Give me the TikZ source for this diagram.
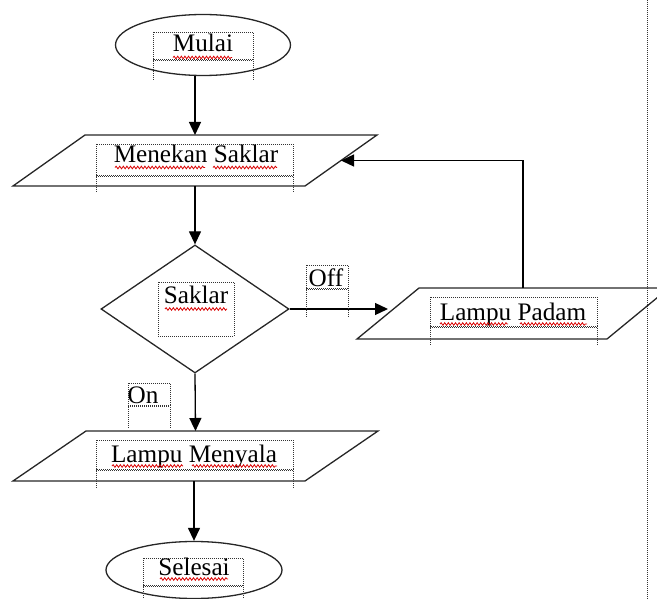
\documentclass[tikz,border=0pt]{standalone}
\usepackage{fontspec}
\setmainfont{Liberation Serif}
\usetikzlibrary{shapes.geometric,arrows.meta,decorations.pathmorphing}

% dotted text-box outline: x1, y1, x2, y2 (box), y3 (end of the side guides)
\newcommand\wordframe[5]{%
  \draw[tbox] (#1,#2) rectangle (#3,#4);
  \draw[tbox] (#1,#4) -- (#1,#5) (#3,#4) -- (#3,#5);
  \draw[tbox] (#1,#4+1.8) -- (#3,#4+1.8);
}
% parallelogram drawn inside a named frame node: node name, horizontal slant
\newcommand\slanted[2]{%
  \draw[shapeline] ([xshift=#2]#1.north west) -- (#1.north east)
    -- ([xshift=-#2]#1.south east) -- (#1.south west) -- cycle;
}

\begin{document}
\begin{tikzpicture}[x=1pt,y=-1pt,
  shapeline/.style={draw=black!85, line width=1.3pt, inner sep=0pt},
  term/.style={shapeline, ellipse},
  iobox/.style={inner sep=0pt, outer sep=0pt},
  decision/.style={shapeline, diamond},
  flow/.style={draw=black, line width=1.3pt, -{Triangle[length=13pt,width=12pt]}},
  txt/.style={font=\fontsize{25.2}{29}\selectfont, inner sep=0pt, anchor=base},
  tbox/.style={draw=black!80, line width=0.9pt, dash pattern=on 1pt off 1pt},
  squig/.style={draw=red!85!black, line width=0.8pt, decorate,
    decoration={snake, amplitude=1.3pt, segment length=3.6pt}},
]
\useasboundingbox (0,0) rectangle (657,599);

% page-side dotted guide
\draw[tbox] (647,0) -- (647,599);

% flowchart shapes
\node[term, minimum width=175pt, minimum height=61pt] (mulai) at (203,45) {};
\node[iobox, minimum width=364pt, minimum height=51pt] (menekan) at (195,160.5) {};
\slanted{menekan}{72pt}
\node[decision, minimum width=188pt, minimum height=128pt] (saklar) at (195,309) {};
\node[iobox, minimum width=312pt, minimum height=51pt] (padam) at (513,313.5) {};
\slanted{padam}{62pt}
\node[iobox, minimum width=365pt, minimum height=50pt] (menyala) at (195.5,456) {};
\slanted{menyala}{73pt}
\node[term, minimum width=176pt, minimum height=57pt] (selesai) at (194,570) {};

% edge points on the slanted sides
\coordinate (padamleft) at ([xshift=31pt]padam.west);
\coordinate (menekanright) at ([xshift=-36pt]menekan.east);
\coordinate (padamtop) at ([xshift=10pt]padam.north);

% connectors
\draw[flow] (mulai.south -| menekan.north) -- (menekan.north);
\draw[flow] (menekan.south) -- (saklar.north);
\draw[flow] (saklar.east) -- (saklar.east -| padamleft);
\draw[flow] (padamtop) |- (menekanright);
\draw[flow] (saklar.south) -- (menyala.north);
\draw[flow] (menyala.south -| selesai.north) -- (selesai.north);

% text boxes
\wordframe{153}{32}{253}{59}{80}
\wordframe{96}{144}{293}{175}{193}
\draw[tbox] (158,282) rectangle (234,336);
\wordframe{306}{265}{348}{288}{317}
\wordframe{430}{297}{597}{326}{346}
\wordframe{128}{383}{170}{405}{428}
\wordframe{96}{440}{293}{469}{488}
\wordframe{143}{558}{243}{585}{599}

% texts
\node[txt] (tmulai) at (203,52) {Mulai};
\node[txt] (tmenekan) at (196,163) {Menekan Saklar};
\node[txt] (tsaklar) at (196,304) {Saklar};
\node[txt] (toff) at (326,287) {Off};
\node[txt] (tpadam) at (513,320) {Lampu Padam};
\node[txt] (ton) at (143,403) {On};
\node[txt] (tmenyala) at (194,462) {Lampu Menyala};
\node[txt] (tselesai) at (194,575) {Selesai};

% spell-check underlines
\draw[squig] (173,57.5) -- (232,57.5);
\draw[squig] (115,167.5) -- (205,167.5);
\draw[squig] (213,167.5) -- (277,167.5);
\draw[squig] (165,309) -- (227,309);
\draw[squig] (440,324) -- (508,324);
\draw[squig] (520,324) -- (587,324);
\draw[squig] (112,466) -- (183,466);
\draw[squig] (192,466) -- (277,466);
\draw[squig] (160,579) -- (228,579);
\end{tikzpicture}
\end{document}
